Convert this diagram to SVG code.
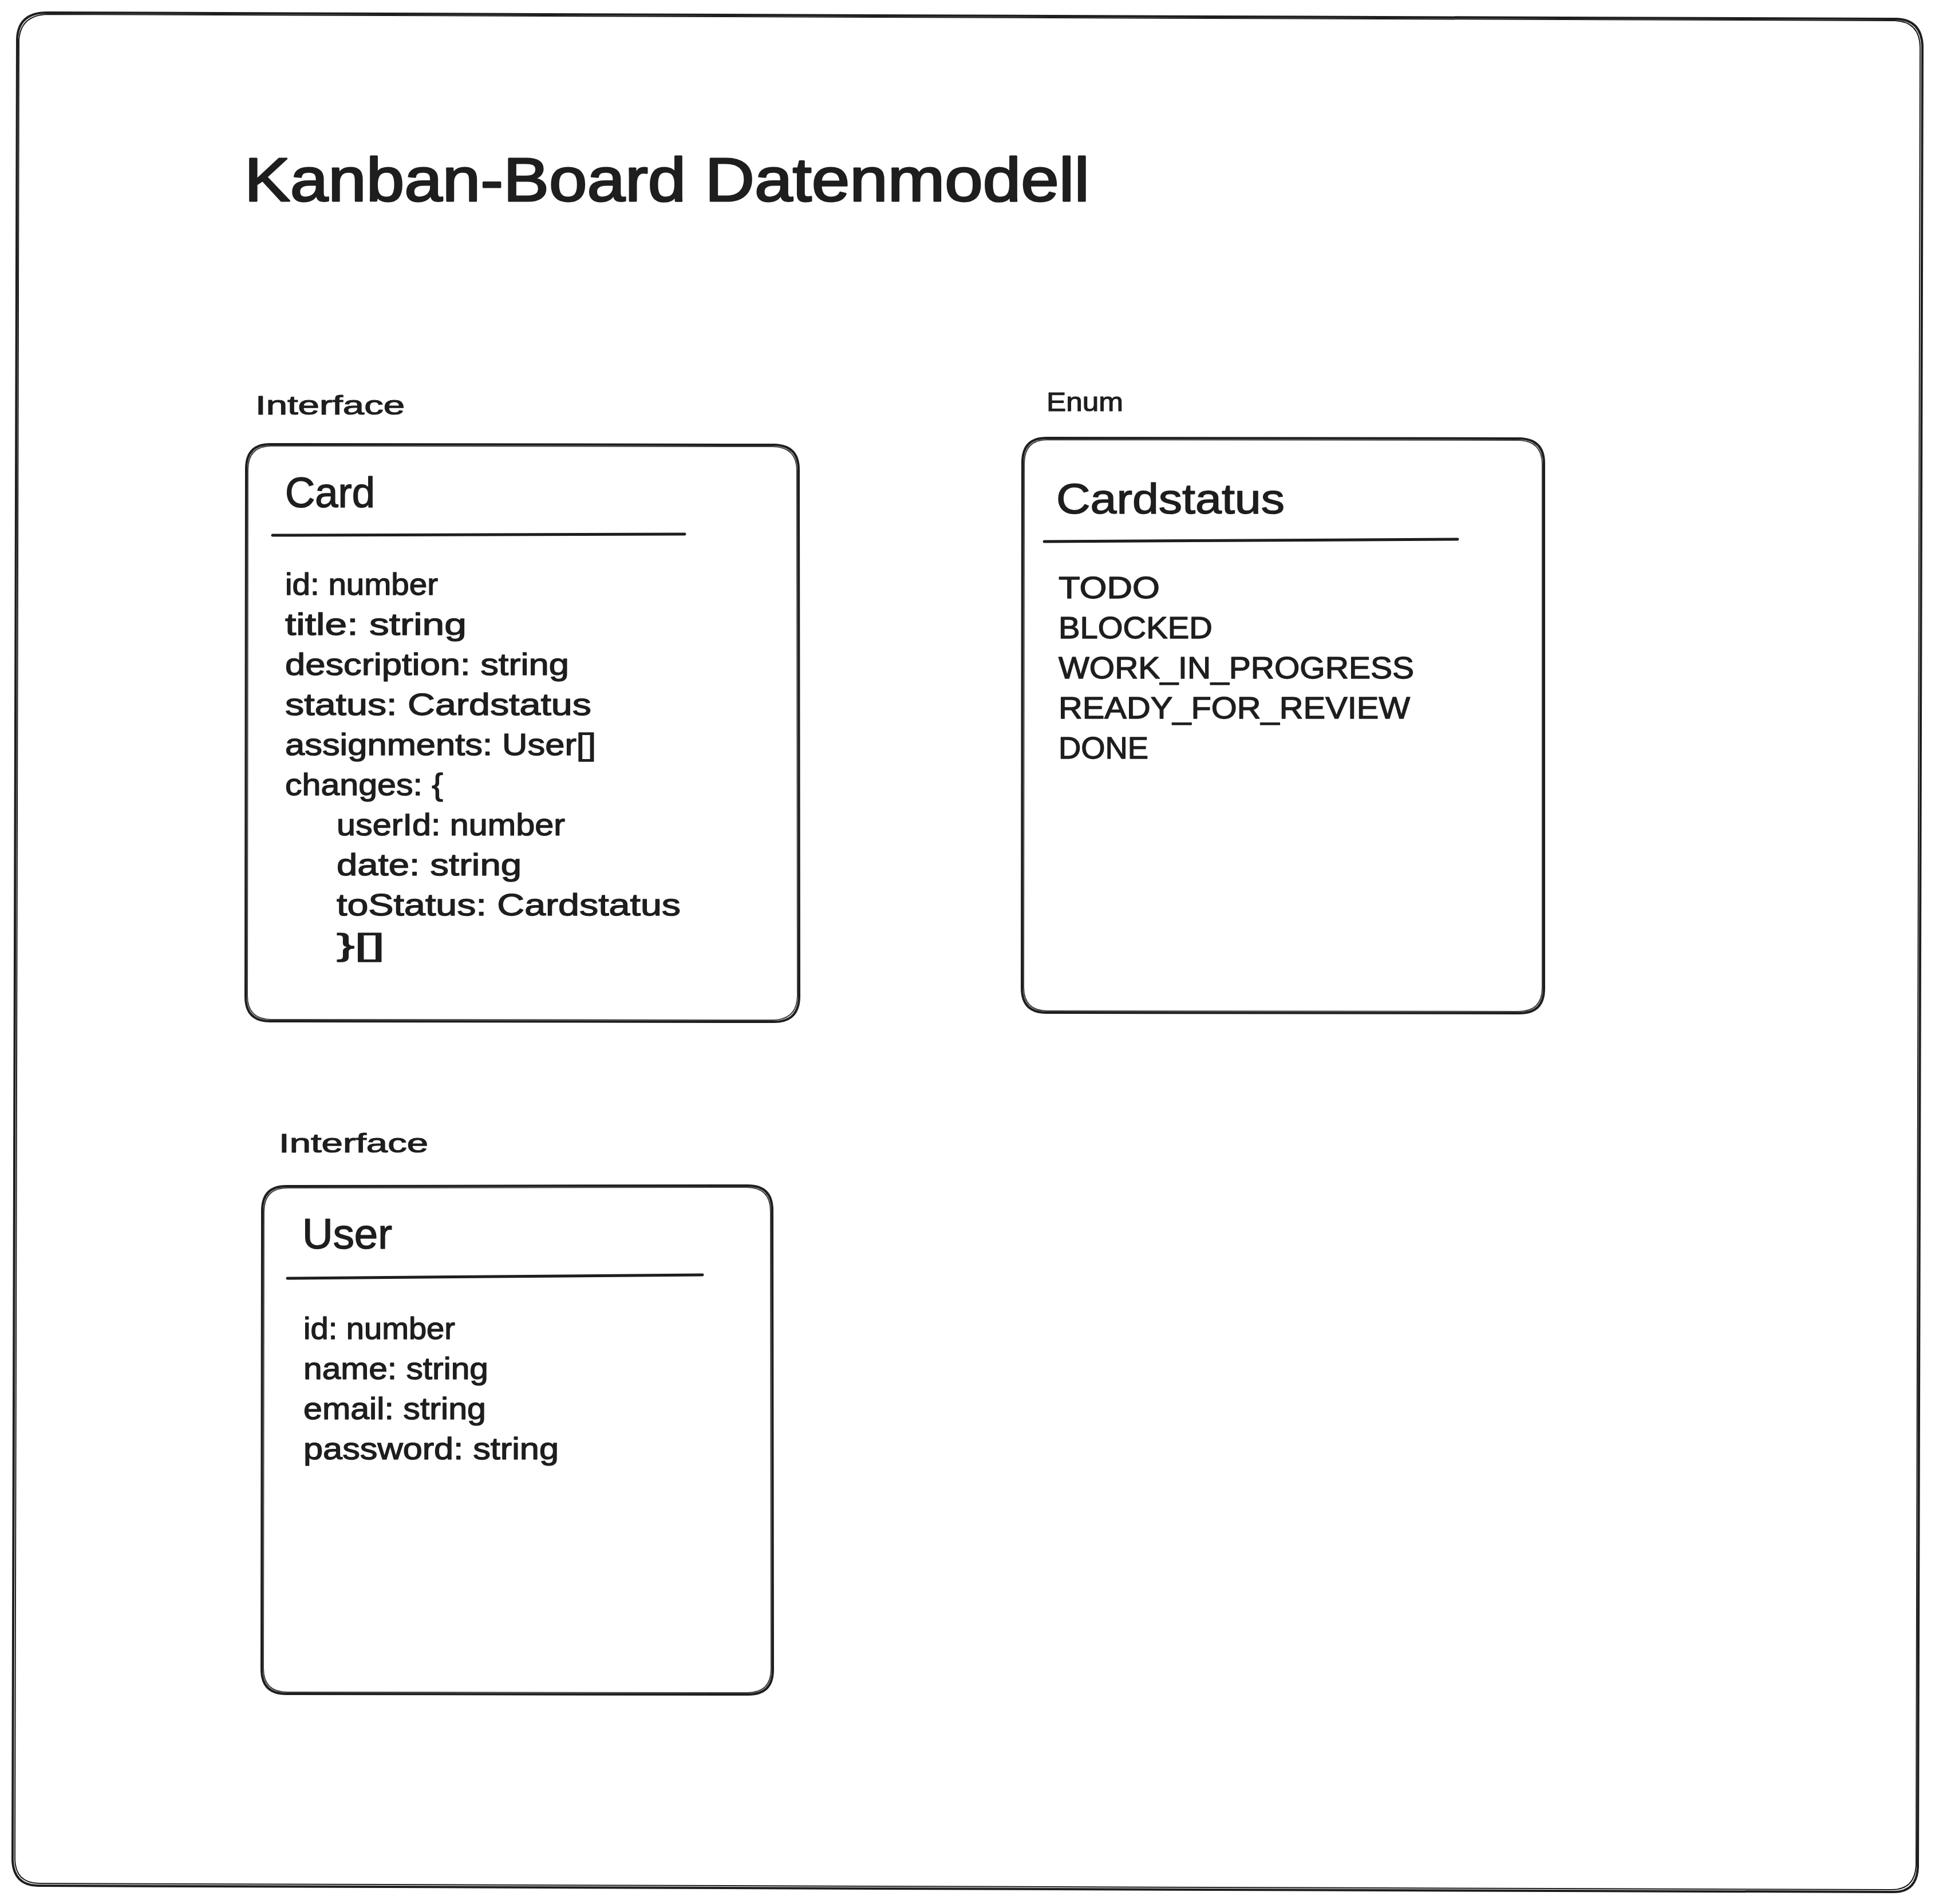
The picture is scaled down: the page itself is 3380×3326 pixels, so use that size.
<svg xmlns="http://www.w3.org/2000/svg" width="3380" height="3326" viewBox="0 0 3380 3326">
<defs>
<style>
.frame{fill:none;stroke:#1e1e1e;stroke-width:4;stroke-linejoin:round;stroke-linecap:round}
.box{fill:#ffffff;stroke:#1e1e1e;stroke-width:4;stroke-linejoin:round}
.box2{fill:none;stroke:#1e1e1e;stroke-width:2;stroke-linejoin:round;opacity:0.85}
.rule{stroke:#1e1e1e;stroke-width:5;stroke-linecap:round;fill:none}
text{font-family:"Liberation Sans","Noto Sans",sans-serif;fill:#1e1e1e;stroke:#1e1e1e;stroke-linejoin:round}
.title{font-size:108px;stroke-width:3}
.head{font-size:74px;stroke-width:1.5}
.lbl{font-size:46px;stroke-width:1.2}
.body{font-size:54px;stroke-width:1.4}
</style>
</defs>
<rect x="0" y="0" width="3380" height="3326" fill="#ffffff"/>

<g id="frame">
<path class="frame" d="M 82 22 L 3312 33 Q 3356 34 3358 80 L 3350 3262 Q 3348 3306 3306 3305 L 66 3294 Q 24 3293 22 3250 L 30 68 Q 32 22 82 22 Z"/>
<path class="frame" style="stroke-width:2" d="M 84 25 L 3310 36 Q 3353 38 3354 82 L 3347 3258 Q 3345 3301 3304 3301 L 68 3290 Q 27 3289 26 3248 L 33 70 Q 36 26 84 25 Z"/>
</g>

<g id="title">
<text class="title" x="427" y="351" textLength="1476" lengthAdjust="spacingAndGlyphs">Kanban-Board Datenmodell</text>
</g>

<g id="card">
<text class="lbl" x="446" y="724" textLength="261" lengthAdjust="spacingAndGlyphs">Interface</text>
<path class="box" d="M 472 776 L 1352 777 Q 1395 778 1395 820 L 1396 1742 Q 1395 1785 1352 1785 L 472 1784 Q 429 1784 429 1741 L 430 819 Q 430 776 472 776 Z"/>
<path class="box2" d="M 474 779 L 1350 780 Q 1392 781 1392 822 L 1393 1740 Q 1392 1781 1350 1782 L 474 1781 Q 432 1781 432 1739 L 433 821 Q 433 779 474 779 Z"/>
<text class="head" x="498" y="886" textLength="157" lengthAdjust="spacingAndGlyphs">Card</text>
<path class="rule" d="M 476 935 L 1196 933"/>
<text class="body" x="498" y="1039" textLength="267" lengthAdjust="spacingAndGlyphs">id: number</text>
<text class="body" x="498" y="1109" textLength="317" lengthAdjust="spacingAndGlyphs">title: string</text>
<text class="body" x="498" y="1179" textLength="496" lengthAdjust="spacingAndGlyphs">description: string</text>
<text class="body" x="498" y="1249" textLength="535" lengthAdjust="spacingAndGlyphs">status: Cardstatus</text>
<text class="body" x="498" y="1319" textLength="543" lengthAdjust="spacingAndGlyphs">assignments: User[]</text>
<text class="body" x="498" y="1389" textLength="276" lengthAdjust="spacingAndGlyphs">changes: {</text>
<text class="body" x="588" y="1459" textLength="399" lengthAdjust="spacingAndGlyphs">userId: number</text>
<text class="body" x="588" y="1529" textLength="323" lengthAdjust="spacingAndGlyphs">date: string</text>
<text class="body" x="588" y="1599" textLength="601" lengthAdjust="spacingAndGlyphs">toStatus: Cardstatus</text>
<text class="body" x="588" y="1669" textLength="84" lengthAdjust="spacingAndGlyphs">}[]</text>
</g>

<g id="cardstatus">
<text class="lbl" x="1828" y="718" textLength="134" lengthAdjust="spacingAndGlyphs">Enum</text>
<path class="box" d="M 1828 765 L 2654 766 Q 2697 767 2697 809 L 2697 1727 Q 2697 1770 2654 1770 L 1828 1769 Q 1785 1769 1785 1726 L 1786 808 Q 1786 765 1828 765 Z"/>
<path class="box2" d="M 1830 768 L 2652 769 Q 2694 770 2694 811 L 2694 1725 Q 2694 1767 2652 1767 L 1830 1766 Q 1788 1766 1788 1724 L 1789 810 Q 1789 768 1830 768 Z"/>
<text class="head" x="1845" y="897" textLength="399" lengthAdjust="spacingAndGlyphs">Cardstatus</text>
<path class="rule" d="M 1824 946 L 2546 942"/>
<text class="body" x="1849" y="1045" textLength="177" lengthAdjust="spacingAndGlyphs">TODO</text>
<text class="body" x="1849" y="1115" textLength="269" lengthAdjust="spacingAndGlyphs">BLOCKED</text>
<text class="body" x="1849" y="1185" textLength="621" lengthAdjust="spacingAndGlyphs">WORK_IN_PROGRESS</text>
<text class="body" x="1849" y="1255" textLength="614" lengthAdjust="spacingAndGlyphs">READY_FOR_REVIEW</text>
<text class="body" x="1849" y="1325" textLength="157" lengthAdjust="spacingAndGlyphs">DONE</text>
</g>

<g id="user">
<text class="lbl" x="487" y="2013" textLength="261" lengthAdjust="spacingAndGlyphs">Interface</text>
<path class="box" d="M 500 2072 L 1306 2071 Q 1349 2071 1349 2114 L 1350 2917 Q 1350 2960 1307 2960 L 500 2959 Q 457 2959 457 2916 L 458 2115 Q 458 2072 500 2072 Z"/>
<path class="box2" d="M 502 2075 L 1304 2074 Q 1346 2074 1346 2116 L 1347 2915 Q 1347 2957 1305 2957 L 502 2956 Q 460 2956 460 2914 L 461 2117 Q 461 2075 502 2075 Z"/>
<text class="head" x="528" y="2181" textLength="157" lengthAdjust="spacingAndGlyphs">User</text>
<path class="rule" d="M 502 2233 L 1227 2227"/>
<text class="body" x="530" y="2339" textLength="265" lengthAdjust="spacingAndGlyphs">id: number</text>
<text class="body" x="530" y="2409" textLength="323" lengthAdjust="spacingAndGlyphs">name: string</text>
<text class="body" x="530" y="2479" textLength="319" lengthAdjust="spacingAndGlyphs">email: string</text>
<text class="body" x="530" y="2549" textLength="446" lengthAdjust="spacingAndGlyphs">password: string</text>
</g>

<g id="connectors"></g>
</svg>
